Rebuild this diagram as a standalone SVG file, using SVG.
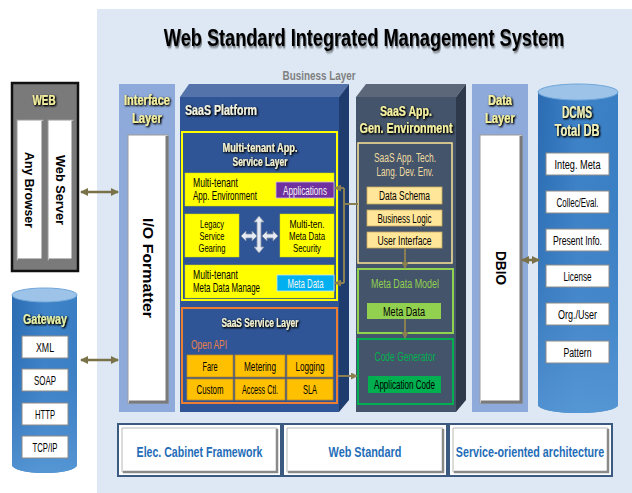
<svg xmlns="http://www.w3.org/2000/svg" width="632" height="493" viewBox="0 0 632 493">
<defs>
<style>
text{font-family:"Liberation Sans",Arial,sans-serif;}
.t{font-size:12.5px;fill:#000;text-anchor:middle;}
.t3{font-size:11.5px;fill:#000;text-anchor:middle;}
.tl{font-size:12.5px;fill:#000;}
.hd{font-weight:bold;fill:#f4f0a0;text-anchor:middle;filter:url(#glow);}
.wh{font-weight:bold;fill:#f2f2e0;filter:url(#glow);}
.pale{fill:#f2f0d0;}
.gw{fill:#e6f0a8;}
.cream{fill:#f0f0b8;}
.white{fill:#f4f4f4;}
.tanT{fill:#f0dca0;}
.lgT{fill:#92d050;}
.gT{fill:#00b050;}
.orT{fill:#e8804a;}
.bar{fill:#fff;stroke:#9a9a9a;stroke-width:1;}
.barsh{fill:none;stroke:#7a7a7a;stroke-width:3;}
.rot{font-weight:bold;fill:#000;text-anchor:middle;}
.conn{stroke:#8a7f50;stroke-width:2;fill:none;}
.big{stroke:#7a7148;stroke-width:2.5;fill:none;marker-start:url(#ah);marker-end:url(#ah);}
.yb{fill:#ffff00;stroke:#d8d800;stroke-width:0.5;}
.ob{fill:#ffc000;stroke:#c08a20;stroke-width:0.8;}
.tan{fill:#ffe699;stroke:#c8a860;stroke-width:0.8;}
.db{fill:#fff;stroke:#8a8a8a;stroke-width:1;}
.bx{fill:#fff;stroke:#3b5a80;stroke-width:2;}
.bt{font-size:14.5px;font-weight:bold;fill:#1f6db8;text-anchor:middle;}
.blk{fill:#e6eaf2;stroke:#8591a6;stroke-width:0.8;}
</style>
<filter id="glow" x="-20%" y="-30%" width="140%" height="160%">
<feGaussianBlur in="SourceAlpha" stdDeviation="0.9" result="b"/>
<feOffset in="b" dx="0.6" dy="0.6" result="o"/>
<feComponentTransfer in="o" result="o2"><feFuncA type="linear" slope="1.6"/></feComponentTransfer>
<feMerge><feMergeNode in="o2"/><feMergeNode in="SourceGraphic"/></feMerge>
</filter>
<filter id="tsh" x="-10%" y="-40%" width="120%" height="180%">
<feGaussianBlur in="SourceAlpha" stdDeviation="1" result="b"/>
<feOffset in="b" dx="1.5" dy="1.5" result="o"/>
<feComponentTransfer in="o" result="o2"><feFuncA type="linear" slope="0.5"/></feComponentTransfer>
<feMerge><feMergeNode in="o2"/><feMergeNode in="SourceGraphic"/></feMerge>
</filter>
<linearGradient id="cyl" x1="0" y1="0" x2="1" y2="0">
<stop offset="0" stop-color="#2b6cb3"/>
<stop offset="0.5" stop-color="#3f83c8"/>
<stop offset="1" stop-color="#3a7fc4"/>
</linearGradient>
<linearGradient id="cylv" x1="0" y1="0" x2="0" y2="1">
<stop offset="0" stop-color="#2f72b9" stop-opacity="0"/>
<stop offset="1" stop-color="#5b9bd8" stop-opacity="0.8"/>
</linearGradient>
<marker id="ah" markerWidth="8" markerHeight="8" refX="7" refY="4" orient="auto-start-reverse" markerUnits="userSpaceOnUse">
<path d="M0,0 L8,4 L0,8 z" fill="#7a7148"/>
</marker>
<marker id="sa" markerWidth="7" markerHeight="7" refX="6" refY="3.5" orient="auto" markerUnits="userSpaceOnUse">
<path d="M0,0 L7,3.5 L0,7 z" fill="#8a7f50"/>
</marker>
</defs>

<!-- background panel -->
<rect x="97" y="9" width="535" height="484" fill="#dde8f4"/>
<text transform="translate(364,46) scale(0.79,1)" font-size="23" font-weight="bold" fill="#000" text-anchor="middle" filter="url(#tsh)">Web Standard Integrated Management System</text>
<text x="319" y="80" font-size="12.5" font-weight="bold" fill="#808080" text-anchor="middle" textLength="73" lengthAdjust="spacingAndGlyphs">Business Layer</text>

<g id="web">
<rect x="12" y="83" width="66" height="188" fill="#7a7a7a" stroke="#111" stroke-width="2.5"/>
<text x="44" y="105" class="hd" font-size="14" textLength="23" lengthAdjust="spacingAndGlyphs">WEB</text>
<rect x="17" y="120" width="26" height="140" class="bar"/>
<path d="M43,121 V260 H18" class="barsh"/>
<rect x="48" y="120" width="25" height="140" class="bar"/>
<path d="M73,121 V260 H49" class="barsh"/>
<text transform="translate(25,190) rotate(90)" class="rot" font-size="12.5" textLength="76" lengthAdjust="spacingAndGlyphs">Any Browser</text>
<text transform="translate(56,190) rotate(90)" class="rot" font-size="12.5" textLength="70" lengthAdjust="spacingAndGlyphs">Web Server</text>
</g>

<g id="gateway">
<path d="M12,295 V465 A32.5,8 0 0 0 77,465 V295 Z" fill="url(#cyl)"/>
<path d="M12,295 V465 A32.5,8 0 0 0 77,465 V295 Z" fill="url(#cylv)"/>
<ellipse cx="44.5" cy="295" rx="32.5" ry="7" fill="#9dc3e8" stroke="#6fa6da"/>
<text x="45" y="324" class="hd gw" font-size="15.5" textLength="44" lengthAdjust="spacingAndGlyphs">Gateway</text>
<rect x="22" y="336" width="46" height="22" class="db"/>
<text x="45" y="351.5" class="t" textLength="18" lengthAdjust="spacingAndGlyphs">XML</text>
<rect x="22" y="369" width="46" height="22" class="db"/>
<text x="45" y="384.5" class="t" textLength="22" lengthAdjust="spacingAndGlyphs">SOAP</text>
<rect x="22" y="403" width="46" height="22" class="db"/>
<text x="45" y="418.5" class="t" textLength="20" lengthAdjust="spacingAndGlyphs">HTTP</text>
<rect x="22" y="436" width="46" height="22" class="db"/>
<text x="45" y="451.5" class="t" textLength="25" lengthAdjust="spacingAndGlyphs">TCP/IP</text>
</g>

<g id="interface-layer">
<rect x="119" y="84" width="56" height="328" fill="#8eaadb"/>
<text x="147" y="105" class="hd" font-size="15" textLength="46" lengthAdjust="spacingAndGlyphs">Interface</text>
<text x="147" y="123" class="hd" font-size="15" textLength="30" lengthAdjust="spacingAndGlyphs">Layer</text>
<rect x="128" y="135" width="40" height="268" class="bar"/>
<path d="M167,136 V402 H129" class="barsh"/>
<text transform="translate(143,268) rotate(90)" class="rot" font-size="14.5" textLength="100" lengthAdjust="spacingAndGlyphs">I/O Formatter</text>
</g>

<g id="saas-platform">
<polygon points="180,97 189,84 349,84 339,97" fill="#5473aa"/>
<polygon points="339,97 349,84 349,400 339,412" fill="#1f3c6e"/>
<rect x="180" y="97" width="159" height="315" fill="#2f5597"/>
<text x="185" y="115" class="wh" font-size="14.5" textLength="72" lengthAdjust="spacingAndGlyphs">SaaS Platform</text>
</g>

<g id="mt-service-layer">
<rect x="182" y="132" width="155" height="168" fill="none" stroke="#ffff00" stroke-width="2"/>
<text x="260" y="152" class="hd pale" font-size="13" textLength="75" lengthAdjust="spacingAndGlyphs">Multi-tenant App.</text>
<text x="260" y="166" class="hd pale" font-size="13" textLength="55" lengthAdjust="spacingAndGlyphs">Service Layer</text>
</g>

<g id="mt-app-env">
<rect x="185" y="173" width="149" height="33" class="yb"/>
<text transform="translate(193,187) scale(0.69,1)" class="tl">Multi-tenant</text>
<text transform="translate(193,200) scale(0.644,1)" class="tl">App. Environment</text>
</g>
<g id="applications">
<rect x="276" y="182" width="58" height="16" fill="#7030a0" stroke="#d0c0e0" stroke-width="0.8"/>
<text transform="translate(305,194.5) scale(0.653,1)" class="t white">Applications</text>
</g>
<g id="legacy">
<rect x="185" y="214" width="54" height="43" class="yb"/>
<text x="212" y="227.5" class="t3" textLength="24" lengthAdjust="spacingAndGlyphs">Legacy</text>
<text x="212" y="239.5" class="t3" textLength="25" lengthAdjust="spacingAndGlyphs">Service</text>
<text x="212" y="251.5" class="t3" textLength="27" lengthAdjust="spacingAndGlyphs">Gearing</text>
</g>
<g id="mt-security">
<rect x="280" y="214" width="54" height="43" class="yb"/>
<text x="307" y="227.5" class="t3" textLength="35" lengthAdjust="spacingAndGlyphs">Multi-ten.</text>
<text x="307" y="239.5" class="t3" textLength="36" lengthAdjust="spacingAndGlyphs">Meta Data</text>
<text x="307" y="251.5" class="t3" textLength="28" lengthAdjust="spacingAndGlyphs">Security</text>
</g>
<g id="cross-arrows">
<polygon class="blk" points="241,236 246,231 246,234 252,234 252,231 257,236 252,241 252,238 246,238 246,241"/>
<polygon class="blk" points="262,236 267,231 267,234 273,234 273,231 278,236 273,241 273,238 267,238 267,241"/>
<polygon class="blk" points="259,216 264,222 261,222 261,247 264,247 259,253 254,247 257,247 257,222 254,222"/>
</g>
<g id="mt-meta-manage">
<rect x="185" y="265" width="149" height="33" class="yb"/>
<text transform="translate(193,279) scale(0.69,1)" class="tl">Multi-tenant</text>
<text transform="translate(193,292) scale(0.63,1)" class="tl">Meta Data Manage</text>
</g>
<g id="meta-data-cyan">
<rect x="277" y="275" width="57" height="16" fill="#00b0f0" stroke="#c0e8f8" stroke-width="0.8"/>
<text transform="translate(305.5,287.5) scale(0.624,1)" class="t white">Meta Data</text>
</g>

<g id="saas-service-layer">
<rect x="182" y="308" width="155" height="95" fill="none" stroke="#ed7d31" stroke-width="2"/>
<text x="260" y="327" class="hd pale" font-size="13" textLength="77" lengthAdjust="spacingAndGlyphs">SaaS Service Layer</text>
<text x="191" y="349" font-size="13" class="orT" textLength="36" lengthAdjust="spacingAndGlyphs">Open API</text>
<rect x="187" y="355" width="46" height="22" class="ob"/>
<text x="210" y="370.5" class="t" textLength="15" lengthAdjust="spacingAndGlyphs">Fare</text>
<rect x="235" y="355" width="50" height="22" class="ob"/>
<text x="260" y="370.5" class="t" textLength="32" lengthAdjust="spacingAndGlyphs">Metering</text>
<rect x="287" y="355" width="46" height="22" class="ob"/>
<text x="310" y="370.5" class="t" textLength="29" lengthAdjust="spacingAndGlyphs">Logging</text>
<rect x="187" y="379" width="46" height="21" class="ob"/>
<text x="210" y="394" class="t" textLength="27" lengthAdjust="spacingAndGlyphs">Custom</text>
<rect x="235" y="379" width="50" height="21" class="ob"/>
<text x="260" y="394" class="t" textLength="36" lengthAdjust="spacingAndGlyphs">Access Ctl.</text>
<rect x="287" y="379" width="46" height="21" class="ob"/>
<text x="310" y="394" class="t" textLength="14" lengthAdjust="spacingAndGlyphs">SLA</text>
</g>

<g id="saas-app-gen-env">
<polygon points="356,97 366,84 466,84 456,97" fill="#5c6779"/>
<polygon points="456,97 466,84 466,400 456,412" fill="#2e3a4b"/>
<rect x="356" y="97" width="100" height="315" fill="#44546a"/>
<text x="406" y="116" class="hd" font-size="15" textLength="52" lengthAdjust="spacingAndGlyphs">SaaS App.</text>
<text x="406" y="133" class="hd" font-size="15" textLength="93" lengthAdjust="spacingAndGlyphs">Gen. Environment</text>
</g>
<g id="tech-dev-env">
<rect x="358" y="143" width="94" height="120" fill="none" stroke="#ffe699" stroke-width="1.5"/>
<text x="405" y="162" class="t tanT" font-size="12.5" textLength="62" lengthAdjust="spacingAndGlyphs">SaaS App. Tech.</text>
<text x="405" y="176" class="t tanT" font-size="12.5" textLength="57" lengthAdjust="spacingAndGlyphs">Lang. Dev. Env.</text>
<rect x="367" y="187" width="75" height="17" class="tan"/>
<text x="404.5" y="200" class="t" textLength="51" lengthAdjust="spacingAndGlyphs">Data Schema</text>
<rect x="367" y="210" width="75" height="16" class="tan"/>
<text x="404.5" y="222.5" class="t" textLength="54" lengthAdjust="spacingAndGlyphs">Business Logic</text>
<rect x="367" y="232" width="75" height="16" class="tan"/>
<text x="404.5" y="244.5" class="t" textLength="54" lengthAdjust="spacingAndGlyphs">User Interface</text>
</g>
<g id="meta-data-model">
<rect x="358" y="269" width="95" height="64" fill="none" stroke="#92d050" stroke-width="2"/>
<text x="405" y="288" class="t lgT" font-size="12.5" textLength="68" lengthAdjust="spacingAndGlyphs">Meta Data Model</text>
<rect x="367" y="303" width="74" height="16" fill="#92d050"/>
<text x="404" y="315.5" class="t" textLength="42" lengthAdjust="spacingAndGlyphs">Meta Data</text>
</g>
<g id="code-generator">
<rect x="358" y="339" width="95" height="65" fill="none" stroke="#00b050" stroke-width="2"/>
<text x="405" y="361" class="t gT" font-size="12.5" textLength="61" lengthAdjust="spacingAndGlyphs">Code Generator</text>
<rect x="368" y="376" width="73" height="17" fill="#00b050"/>
<text x="404.5" y="389" class="t" textLength="61" lengthAdjust="spacingAndGlyphs">Application Code</text>
</g>

<g id="data-layer">
<rect x="472" y="84" width="56" height="328" fill="#8eaadb"/>
<text x="500" y="105" class="hd" font-size="15" textLength="24" lengthAdjust="spacingAndGlyphs">Data</text>
<text x="500" y="123" class="hd" font-size="15" textLength="30" lengthAdjust="spacingAndGlyphs">Layer</text>
<rect x="480" y="135" width="42" height="268" class="bar"/>
<path d="M521,136 V402 H481" class="barsh"/>
<text transform="translate(496,268) rotate(90)" class="rot" font-size="14.5" textLength="34" lengthAdjust="spacingAndGlyphs">DBIO</text>
</g>

<g id="dcms-db">
<path d="M538,92 V405 A40,8 0 0 0 618,405 V92 Z" fill="url(#cyl)"/>
<path d="M538,92 V405 A40,8 0 0 0 618,405 V92 Z" fill="url(#cylv)"/>
<ellipse cx="578" cy="92" rx="40" ry="8" fill="#9dc3e8" stroke="#6fa6da"/>
<text x="577" y="118" class="hd cream" font-size="16" textLength="30" lengthAdjust="spacingAndGlyphs">DCMS</text>
<text x="577" y="136" class="hd cream" font-size="16" textLength="45" lengthAdjust="spacingAndGlyphs">Total DB</text>
<rect x="546" y="153" width="63" height="22" class="db"/>
<text x="577.5" y="168.5" class="t" textLength="46" lengthAdjust="spacingAndGlyphs">Integ. Meta</text>
<rect x="546" y="191" width="63" height="22" class="db"/>
<text x="577.5" y="206.5" class="t" textLength="42" lengthAdjust="spacingAndGlyphs">Collec/Eval.</text>
<rect x="546" y="229" width="63" height="22" class="db"/>
<text x="577.5" y="244.5" class="t" textLength="49" lengthAdjust="spacingAndGlyphs">Present Info.</text>
<rect x="546" y="265" width="63" height="22" class="db"/>
<text x="577.5" y="280.5" class="t" textLength="28" lengthAdjust="spacingAndGlyphs">License</text>
<rect x="546" y="303" width="63" height="22" class="db"/>
<text x="577.5" y="318.5" class="t" textLength="39" lengthAdjust="spacingAndGlyphs">Org./User</text>
<rect x="546" y="341" width="63" height="22" class="db"/>
<text x="577.5" y="356.5" class="t" textLength="28" lengthAdjust="spacingAndGlyphs">Pattern</text>
</g>

<g id="elec-cabinet">
<rect x="118" y="424" width="163" height="52" class="bx"/>
<path d="M122,428 H277 V472 H122 Z" fill="#fff" stroke="#b8b8b8" stroke-width="1"/>
<path d="M277,429 V472 H123" fill="none" stroke="#8a8a8a" stroke-width="2.5"/>
<text transform="translate(199.5,457) scale(0.73,1)" class="bt">Elec. Cabinet Framework</text>
</g>
<g id="web-standard">
<rect x="283" y="424" width="164" height="52" class="bx"/>
<path d="M287,428 H443 V472 H287 Z" fill="#fff" stroke="#b8b8b8" stroke-width="1"/>
<path d="M443,429 V472 H288" fill="none" stroke="#8a8a8a" stroke-width="2.5"/>
<text transform="translate(365,457) scale(0.75,1)" class="bt">Web Standard</text>
</g>
<g id="soa">
<rect x="449" y="424" width="163" height="52" class="bx"/>
<path d="M453,428 H608 V472 H453 Z" fill="#fff" stroke="#b8b8b8" stroke-width="1"/>
<path d="M608,429 V472 H454" fill="none" stroke="#8a8a8a" stroke-width="2.5"/>
<text transform="translate(530,457) scale(0.74,1)" class="bt">Service-oriented architecture</text>
</g>

<g id="connectors">
<line x1="81" y1="192" x2="118" y2="192" class="big"/>
<line x1="81" y1="360" x2="118" y2="360" class="big"/>
<line x1="522" y1="260" x2="539" y2="260" class="big"/>
<path d="M344,188 V283" class="conn"/>
<line x1="344" y1="188" x2="335" y2="188" class="conn" marker-end="url(#sa)"/>
<line x1="344" y1="283" x2="335" y2="283" class="conn" marker-end="url(#sa)"/>
<line x1="344" y1="204" x2="358" y2="204" class="conn"/>
<line x1="338" y1="376" x2="357" y2="376" class="conn" marker-end="url(#sa)"/>
<line x1="405" y1="248" x2="405" y2="268" class="conn" marker-end="url(#sa)"/>
<line x1="405" y1="319" x2="405" y2="338" class="conn" marker-end="url(#sa)"/>
</g>
</svg>
